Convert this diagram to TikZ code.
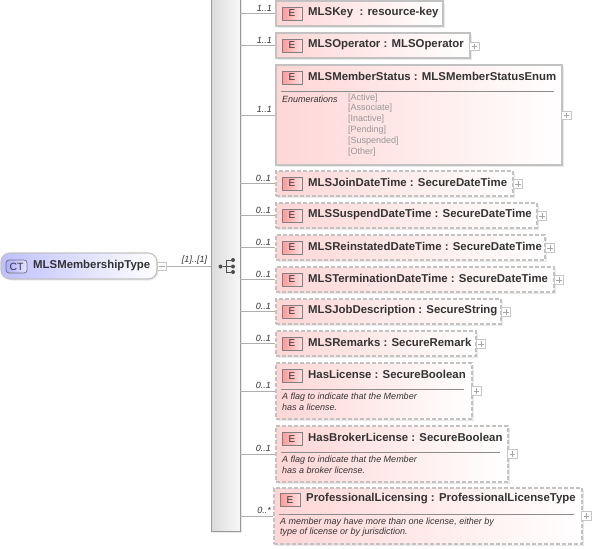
\documentclass[tikz,border=0pt]{standalone}
\usepackage{fontspec}
\setmainfont{Liberation Sans}
\usetikzlibrary{shadows}
\definecolor{boxpink}{HTML}{FFD6D6}
\definecolor{boxline}{HTML}{C2C2C2}
\definecolor{connline}{HTML}{B0B0B0}
\definecolor{titletext}{HTML}{333333}
\definecolor{enumtext}{HTML}{969696}
\begin{document}
\begin{tikzpicture}[
  x=1pt, y=-1pt,
  boxshadow/.style={drop shadow={shadow xshift=1.5pt, shadow yshift=-1.5pt, opacity=0.22, fill=black!40}},
  elem/.style={rectangle, draw=boxline, line width=1.1pt, left color=boxpink, right color=white, inner sep=0pt, boxshadow},
  elemopt/.style={elem, line width=1.3pt, dash pattern=on 4pt off 2pt},
  badge/.style={rectangle, draw=black!50, line width=0.7pt, left color=red!40, right color=red!12, minimum width=20pt, minimum height=13pt, inner sep=0pt, font=\fontsize{10}{10}\selectfont, text=titletext},
  title/.style={anchor=west, inner sep=0pt, font=\fontsize{11.4}{11.4}\selectfont\bfseries, text=titletext},
  card/.style={anchor=east, inner sep=0pt, font=\fontsize{9}{9}\selectfont\itshape, text=black!80},
  note/.style={anchor=west, inner sep=0pt, font=\fontsize{9}{9}\selectfont\itshape, text=black!80},
  enumval/.style={anchor=west, inner sep=0pt, font=\fontsize{9}{9}\selectfont, text=enumtext},
  rulerline/.style={draw=black!45, line width=0.7pt},
  conn/.style={draw=connline, line width=0.9pt},
  plusbox/.style={rectangle, draw=black!22, fill=white, line width=0.6pt, minimum width=9.5pt, minimum height=8.5pt, inner sep=0pt,
    path picture={\draw[black!35, line width=0.6pt] ([xshift=2pt]path picture bounding box.west) -- ([xshift=-2pt]path picture bounding box.east) ([yshift=-1.5pt]path picture bounding box.north) -- ([yshift=1.5pt]path picture bounding box.south);}},
  minusbox/.style={rectangle, draw=black!22, fill=white, line width=0.6pt, minimum width=9.5pt, minimum height=8.5pt, inner sep=0pt,
    path picture={\draw[black!35, line width=0.6pt] ([xshift=2pt]path picture bounding box.west) -- ([xshift=-2pt]path picture bounding box.east);}},
  seqdot/.style={circle, fill=black!70, inner sep=0pt, minimum size=4pt}
]
  \useasboundingbox (0,0) rectangle (592,549);

  % --- tipo raiz ---
  \node[rectangle, rounded corners=9pt, draw=boxline, line width=1.1pt, left color=blue!25, right color=white, minimum width=156pt, minimum height=26pt, inner sep=0pt, boxshadow] (root) at (79,266) {};
  \node[rectangle, rounded corners=3pt, draw=black!55, line width=0.7pt, left color=blue!32, right color=blue!10, minimum width=21pt, minimum height=13pt, inner sep=0pt, font=\fontsize{10.5}{10.5}\selectfont, text=titletext] (rootbadge) at (16.5,266.5) {CT};
  \node[title] (roottitle) at (33,265.5) {MLSMembershipType};
  \node[minusbox] (rootminus) at (162,266.5) {};

  % --- barra de secuencia ---
  \node[rectangle, draw=black!40, line width=0.8pt, left color=black!14, right color=black!3, minimum width=29pt, minimum height=533pt, inner sep=0pt, boxshadow] (seqbar) at (225.5,265) {};
  \draw[conn] (rootminus) -- (seqbar.west |- rootminus);
  \node[card, anchor=center] (rootcard) at (194.5,260) {[1]..[1]};

  % icono
  \node[seqdot] (seqin) at (220.5,266.5) {};
  \coordinate (seqmid) at (226.5,266.5);
  \node[seqdot] (seqa) at (233,260) {};
  \node[seqdot] (seqb) at (233,266.5) {};
  \node[seqdot] (seqc) at (233,272) {};
  \draw[black!70, line width=0.9pt] (seqin) -- (seqb);
  \draw[black!70, line width=0.9pt] (seqa) -| (seqmid) |- (seqc);

  % --- elementos obligatorios ---
  \node[elem, minimum width=167pt, minimum height=25pt] (key) at (359.5,13.5) {};
  \node[badge] (keybadge) at (292,13.5) {E};
  \node[title] (keytitle) at (308,12.5) {MLSKey\ \ : resource-key};
  \node[card] (keycard) at (272,8) {1..1};
  \draw[conn] (seqbar.east |- key) -- (key);

  \node[elem, minimum width=194pt, minimum height=25pt] (oper) at (373,45.5) {};
  \node[badge] (operbadge) at (292,45.5) {E};
  \node[title] (opertitle) at (308,44.5) {MLSOperator : MLSOperator};
  \node[card] (opercard) at (272,40) {1..1};
  \node[plusbox] (operplus) at (474.5,46.5) {};
  \draw[conn] (seqbar.east |- oper) -- (oper);

  \node[elem, minimum width=286pt, minimum height=100pt] (status) at (419,115) {};
  \node[badge] (statusbadge) at (292,77.5) {E};
  \node[title] (statustitle) at (308,76) {MLSMemberStatus : MLSMemberStatusEnum};
  \draw[rulerline] (281,91) -- (554,91);
  \node[note] (statusenum) at (282,99) {Enumerations};
  \node[enumval] (enuma) at (348,98) {[Active]};
  \node[enumval] (enumb) at (348,108) {[Associate]};
  \node[enumval] (enumc) at (348,119) {[Inactive]};
  \node[enumval] (enumd) at (348,130) {[Pending]};
  \node[enumval] (enume) at (348,141) {[Suspended]};
  \node[enumval] (enumf) at (348,152) {[Other]};
  \node[card] (statuscard) at (272,109) {1..1};
  \node[plusbox] (statusplus) at (566.5,115.5) {};
  \draw[conn] (seqbar.east |- status) -- (status);

  % --- elementos opcionales ---
  \node[elemopt, minimum width=237pt, minimum height=25pt] (join) at (394.5,183.5) {};
  \node[badge] (joinbadge) at (292,183.5) {E};
  \node[title] (jointitle) at (308,182.5) {MLSJoinDateTime : SecureDateTime};
  \node[card] (joincard) at (271,178) {0..1};
  \node[plusbox] (joinplus) at (518,184) {};
  \draw[conn] (seqbar.east |- join) -- (join);

  \node[elemopt, minimum width=261pt, minimum height=25pt] (susp) at (406.5,215.5) {};
  \node[badge] (suspbadge) at (292,215.5) {E};
  \node[title] (susptitle) at (308,214.5) {MLSSuspendDateTime : SecureDateTime};
  \node[card] (suspcard) at (271,210) {0..1};
  \node[plusbox] (suspplus) at (542,216) {};
  \draw[conn] (seqbar.east |- susp) -- (susp);

  \node[elemopt, minimum width=269pt, minimum height=25pt] (rein) at (410.5,247.5) {};
  \node[badge] (reinbadge) at (292,247.5) {E};
  \node[title] (reintitle) at (308,246.5) {MLSReinstatedDateTime : SecureDateTime};
  \node[card] (reincard) at (271,242) {0..1};
  \node[plusbox] (reinplus) at (550,248) {};
  \draw[conn] (seqbar.east |- rein) -- (rein);

  \node[elemopt, minimum width=278pt, minimum height=25pt] (term) at (415,279.5) {};
  \node[badge] (termbadge) at (292,279.5) {E};
  \node[title] (termtitle) at (308,278.5) {MLSTerminationDateTime : SecureDateTime};
  \node[card] (termcard) at (271,274) {0..1};
  \node[plusbox] (termplus) at (559,280) {};
  \draw[conn] (seqbar.east |- term) -- (term);

  \node[elemopt, minimum width=225pt, minimum height=25pt] (job) at (388.5,311.5) {};
  \node[badge] (jobbadge) at (292,311.5) {E};
  \node[title] (jobtitle) at (308,310.5) {MLSJobDescription : SecureString};
  \node[card] (jobcard) at (271,306) {0..1};
  \node[plusbox] (jobplus) at (506,312) {};
  \draw[conn] (seqbar.east |- job) -- (job);

  \node[elemopt, minimum width=200pt, minimum height=25pt] (rem) at (376,343.5) {};
  \node[badge] (rembadge) at (292,343.5) {E};
  \node[title] (remtitle) at (308,342.5) {MLSRemarks : SecureRemark};
  \node[card] (remcard) at (271,338) {0..1};
  \node[plusbox] (remplus) at (481,344) {};
  \draw[conn] (seqbar.east |- rem) -- (rem);

  % --- elementos con comentario ---
  \node[elemopt, minimum width=196pt, minimum height=56pt] (lic) at (374,391) {};
  \node[badge] (licbadge) at (292,376) {E};
  \node[title] (lictitle) at (308,374) {HasLicense : SecureBoolean};
  \draw[rulerline] (281,389) -- (464,389);
  \node[note] (licnotea) at (282,397) {A flag to indicate that the Member};
  \node[note] (licnoteb) at (282,407) {has a license.};
  \node[card] (liccard) at (271,385) {0..1};
  \node[plusbox] (licplus) at (476.5,391) {};
  \draw[conn] (seqbar.east |- lic) -- (lic);

  \node[elemopt, minimum width=232pt, minimum height=56pt] (brok) at (392,454) {};
  \node[badge] (brokbadge) at (292,439) {E};
  \node[title] (broktitle) at (308,437) {HasBrokerLicense : SecureBoolean};
  \draw[rulerline] (281,452) -- (500,452);
  \node[note] (broknotea) at (282,460) {A flag to indicate that the Member};
  \node[note] (broknoteb) at (282,470) {has a broker license.};
  \node[card] (brokcard) at (271,448) {0..1};
  \node[plusbox] (brokplus) at (512.5,454) {};
  \draw[conn] (seqbar.east |- brok) -- (brok);

  \node[elemopt, minimum width=308pt, minimum height=56pt] (prof) at (428,516) {};
  \node[badge] (profbadge) at (290,500) {E};
  \node[title] (proftitle) at (306,499) {ProfessionalLicensing : ProfessionalLicenseType};
  \draw[rulerline] (279,514) -- (574,514);
  \node[note] (profnotea) at (280,522) {A member may have more than one license, either by};
  \node[note] (profnoteb) at (280,532) {type of license or by jurisdiction.};
  \node[card] (profcard) at (271,510) {0..*};
  \node[plusbox] (profplus) at (586.5,516) {};
  \draw[conn] (seqbar.east |- prof) -- (prof);
\end{tikzpicture}
\end{document}
